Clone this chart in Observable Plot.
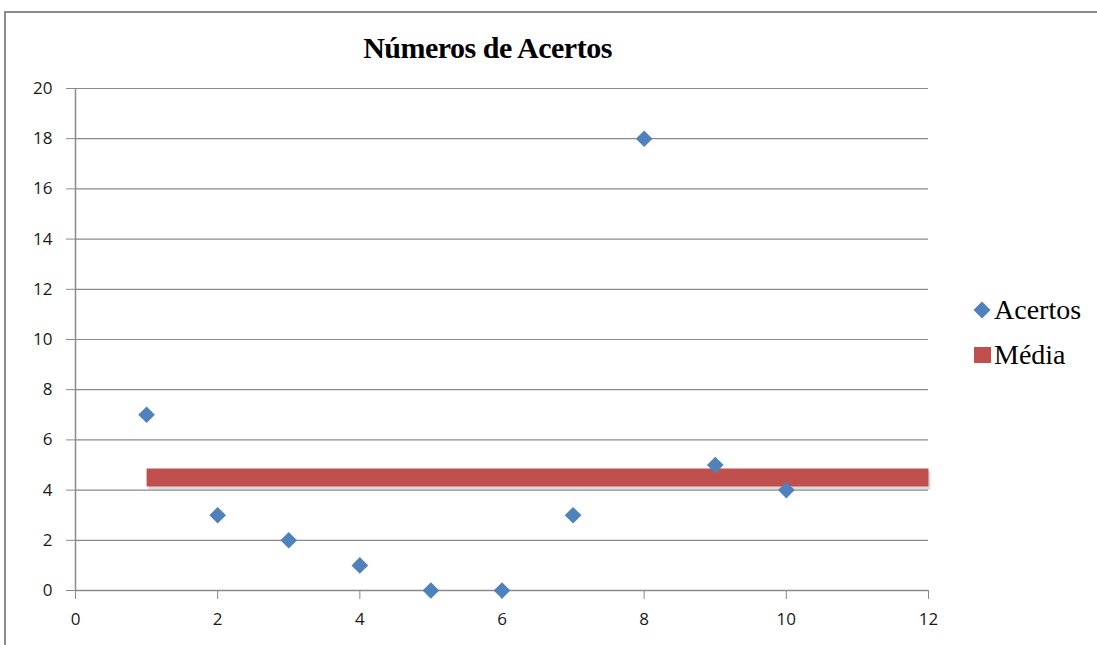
<!DOCTYPE html>
<html>
<head>
<meta charset="utf-8">
<script src="https://cdn.jsdelivr.net/npm/d3@7"></script>
<script src="https://cdn.jsdelivr.net/npm/@observablehq/plot@0.6"></script>
<style>
  html, body { margin: 0; padding: 0; background: #fff; }
  #wrap { position: relative; width: 1097px; height: 645px; overflow: hidden; }
  #frame { position: absolute; left: 4px; top: 11px; width: 1200px; height: 700px;
           border-left: 2px solid #8c8c8c; border-top: 2px solid #8c8c8c; }
  #title { position: absolute; left: 0; width: 975px; top: 31px; text-align: center;
           font-family: "Liberation Serif", serif; font-weight: bold; font-size: 30px; color: #000; letter-spacing: -0.5px; }
  .leg { position: absolute; font-family: "Liberation Serif", serif; font-size: 28px; color: #000; line-height: 1; }
  .sym { position: absolute; }
  #chart { position: absolute; left: 0; top: 0; }
</style>
</head>
<body>
<div id="wrap">
  <div id="frame"></div>
  <div id="chart"></div>
  <div id="title">Números de Acertos</div>
  <div id="legend"></div>
</div>
<script>
// Data
const acertosX = [1, 2, 3, 4, 5, 6, 7, 8, 9, 10];
const acertosY = [7, 3, 2, 1, 0, 0, 3, 18, 5, 4];
const mediaX = [1, 12];
const mediaY = [4.5, 4.5];
const xTicks = [0, 2, 4, 6, 8, 10, 12];
const yTicks = [0, 2, 4, 6, 8, 10, 12, 14, 16, 18, 20];
const seriesNames = ["Acertos", "Média"];
const seriesColors = ["#4f81bd", "#c0504d"];

const acertos = acertosX.map((x, i) => ({x, y: acertosY[i]}));
const media = mediaX.map((x, i) => ({x, y: mediaY[i]}));

const plot = Plot.plot({
  width: 1097,
  height: 645,
  marginLeft: 75,
  marginRight: 169,
  marginTop: 88,
  marginBottom: 55,
  style: { background: "transparent", fontFamily: "'Open Sans', 'DejaVu Sans', sans-serif", fontSize: "17px" },
  x: { domain: [0, 12] },
  y: { domain: [0, 20] },
  marks: [
    Plot.gridY(yTicks, { stroke: "#8a8a8a", strokeOpacity: 1, strokeWidth: 1.2 }),
    Plot.ruleX([0], { stroke: "#8a8a8a", strokeWidth: 1.5, y1: 0, y2: 20 }),
    Plot.ruleY([0], { stroke: "#8a8a8a", strokeWidth: 1.5 }),
    Plot.axisY(yTicks, { tickSize: 9, tickPadding: 14, stroke: "#8a8a8a", fill: "#1a1a1a", fontSize: 17, label: null }),
    Plot.axisX(xTicks, { tickSize: 9, tickPadding: 13, stroke: "#8a8a8a", fill: "#1a1a1a", fontSize: 17, label: null }),
    // shadow of the mean line
    Plot.line(media, { x: "x", y: "y", stroke: "#999", strokeOpacity: 0.35, strokeWidth: 18, strokeLinecap: "butt", dy: 3, dx: 2 }),
    Plot.line(media, { x: "x", y: "y", stroke: seriesColors[1], strokeWidth: 18, strokeLinecap: "butt" }),
    Plot.dot(acertos, { x: "x", y: "y", symbol: "diamond2", r: 7.5, fill: seriesColors[0], stroke: "none" })
  ]
});
document.getElementById("chart").appendChild(plot);

// Legend
const legend = document.getElementById("legend");
const legTops = [296, 341];
seriesNames.forEach((name, i) => {
  const sym = document.createElement("div");
  sym.className = "sym";
  if (i === 0) {
    sym.style.cssText = `left:976px; top:${legTops[i] + 8}px; width:12px; height:12px; background:${seriesColors[i]}; transform: rotate(45deg);`;
  } else {
    sym.style.cssText = `left:974px; top:${legTops[i] + 6}px; width:17px; height:16px; background:${seriesColors[i]};`;
  }
  legend.appendChild(sym);
  const t = document.createElement("div");
  t.className = "leg";
  t.style.left = "994px";
  t.style.top = legTops[i] + "px";
  t.textContent = name;
  legend.appendChild(t);
});
</script>
</body>
</html>
